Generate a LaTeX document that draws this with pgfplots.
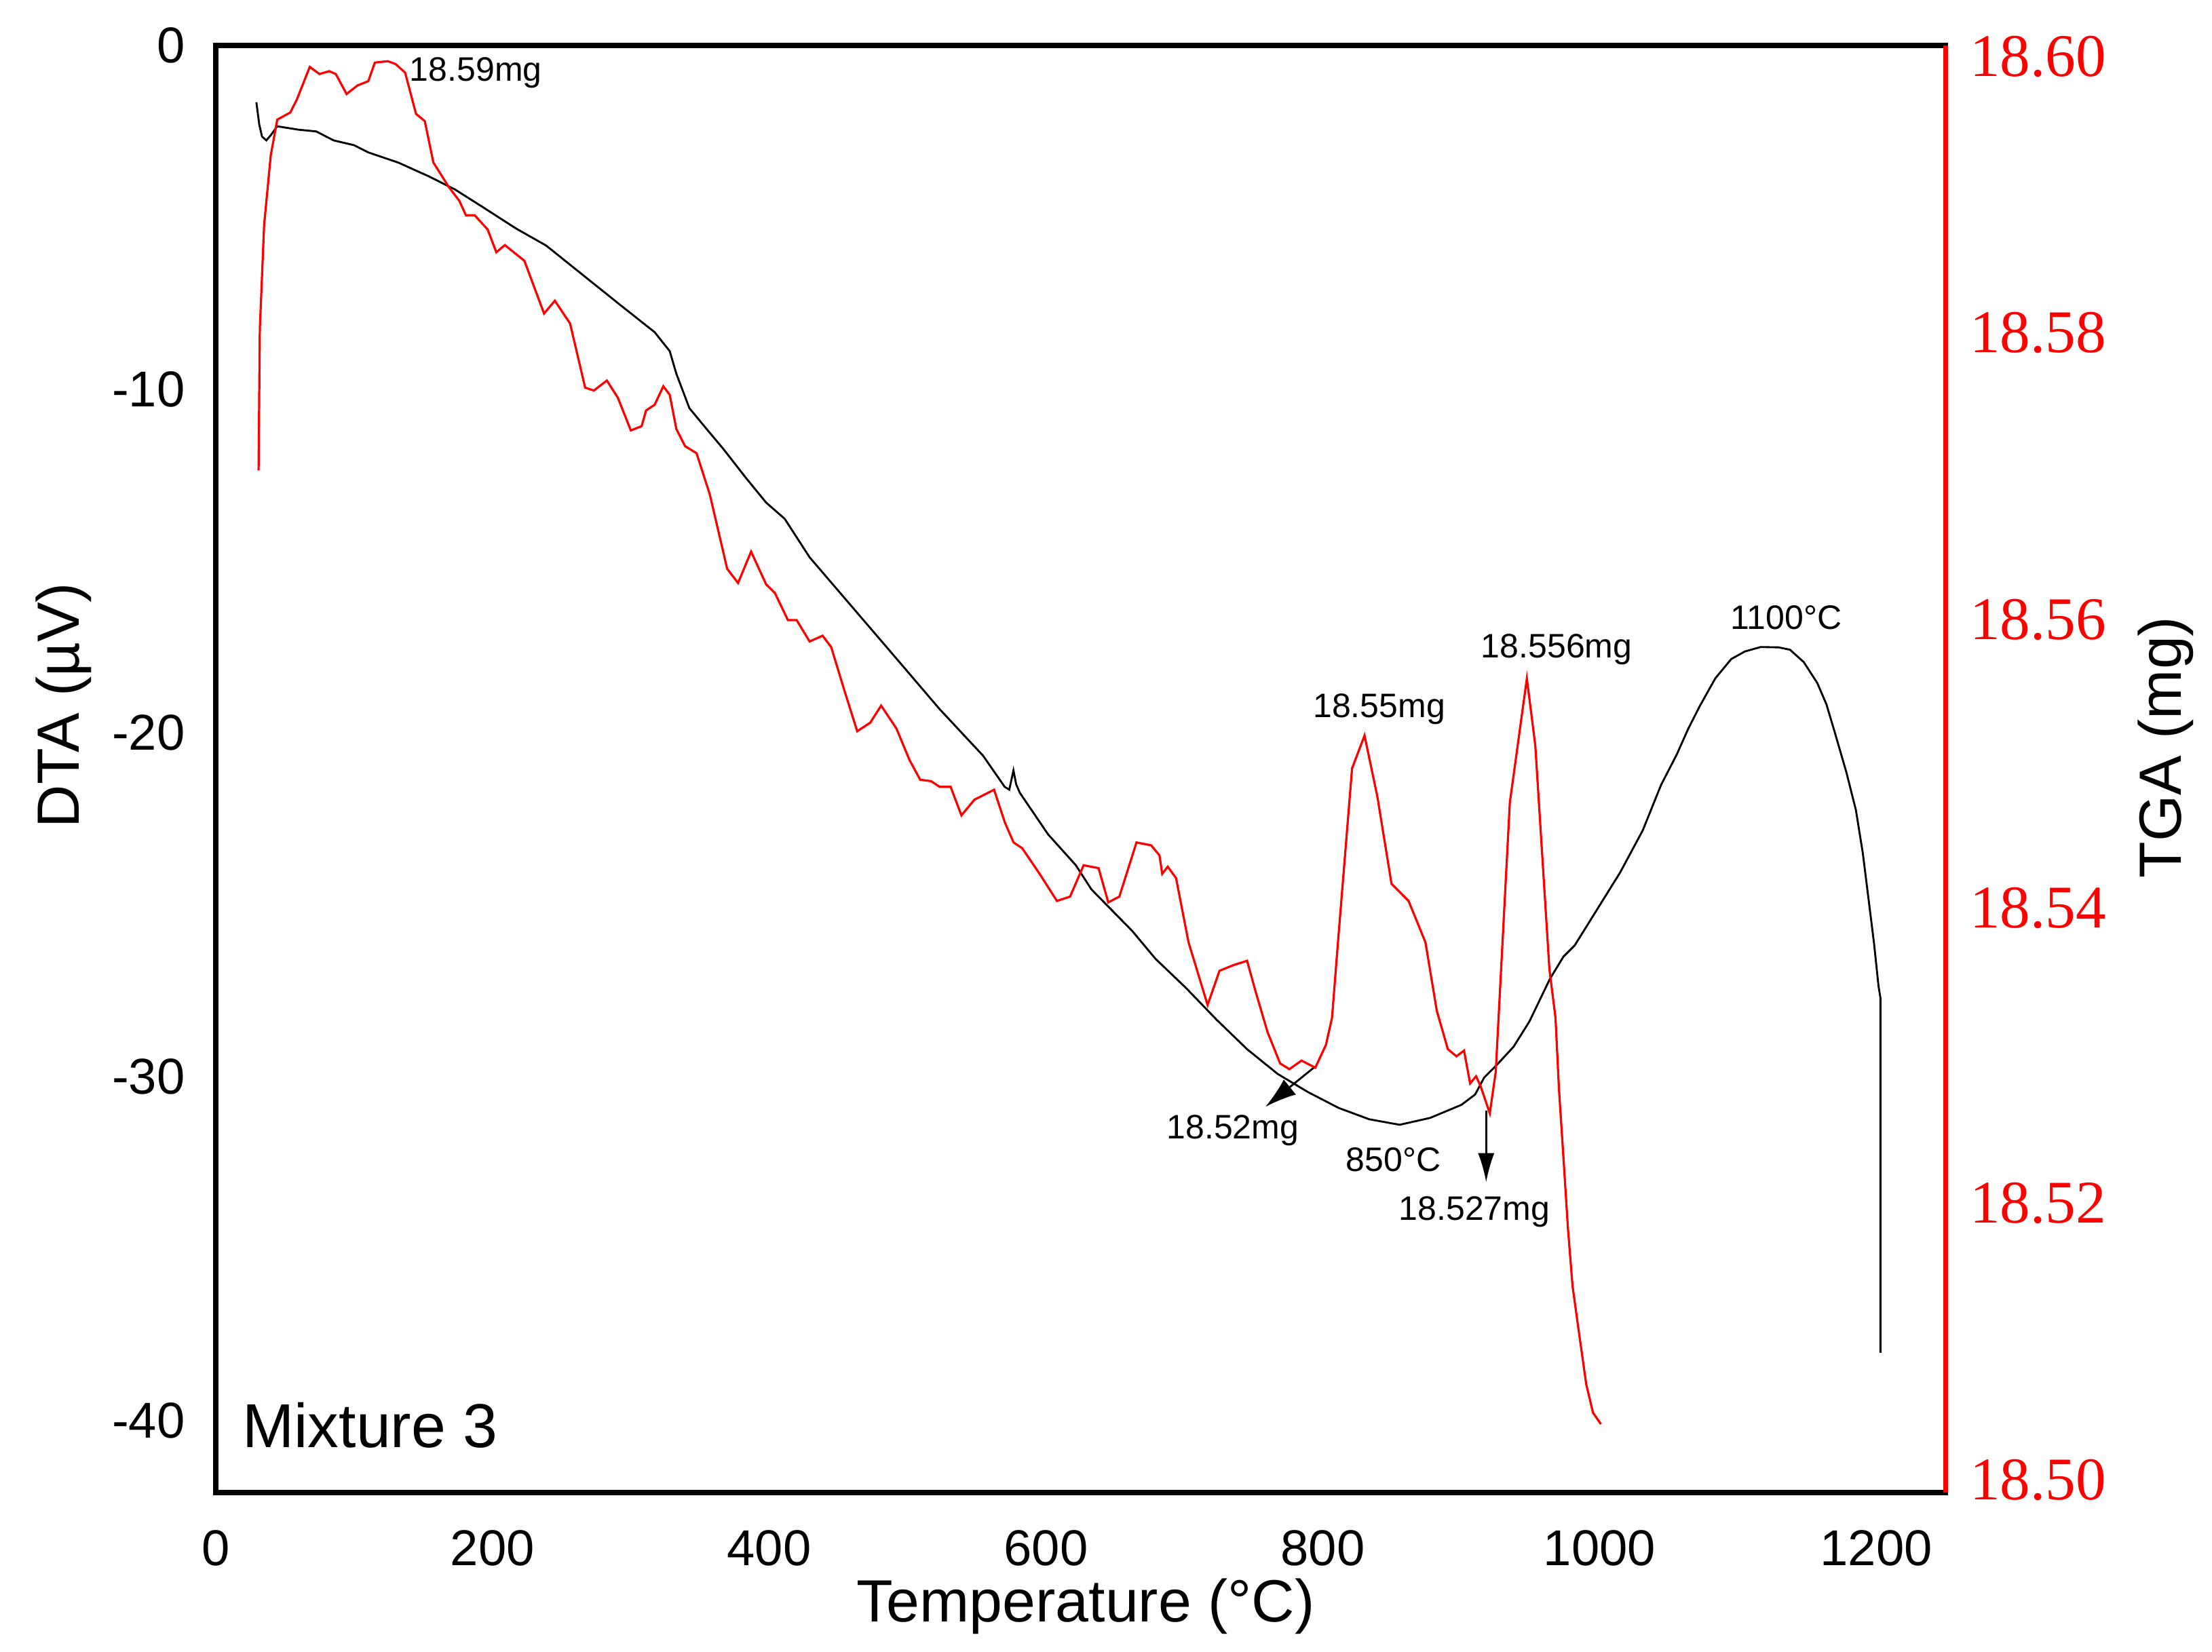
\documentclass[border=0pt]{standalone}
\usepackage{pgfplots}
\pgfplotsset{compat=1.18}
\usepackage{fontspec}
\setmainfont{Liberation Sans}
\newfontfamily\serifnum{Liberation Serif}
\usetikzlibrary{arrows.meta}

\pgfplotstableread{
x y
29.4 -1.65
31.5 -2.3
33.5 -2.65
36.6 -2.76
40 -2.6
44.5 -2.35
60 -2.45
72.7 -2.50
85.2 -2.76
100 -2.9
110.3 -3.11
132.2 -3.41
154.2 -3.81
173 -4.19
191.8 -4.67
216.9 -5.32
238.8 -5.82
267 -6.73
292.1 -7.54
317.2 -8.34
328.1 -8.89
332.9 -9.55
342.3 -10.55
354.8 -11.16
366.5 -11.72
383 -12.57
397.8 -13.30
411.2 -13.77
429.2 -14.89
460.5 -16.36
491.8 -17.83
523.2 -19.31
554.5 -20.66
570.2 -21.57
573.5 -21.65
576.5 -21.09
578.5 -21.5
581.1 -21.74
601.5 -22.95
621.6 -23.85
632.8 -24.55
662.3 -25.76
679.1 -26.57
701.2 -27.42
723.2 -28.34
745.3 -29.20
767.4 -29.92
789.4 -30.45
811.5 -30.91
833.6 -31.24
855.6 -31.40
877.6 -31.20
900.2 -30.82
910.1 -30.52
916.6 -30.03
924.8 -29.70
937.9 -29.13
949.4 -28.39
964.1 -27.16
973.9 -26.51
982.1 -26.18
998.5 -25.12
1014.9 -24.06
1031.3 -22.83
1044.4 -21.52
1055.9 -20.62
1064.1 -19.88
1072.3 -19.23
1083.7 -18.41
1095.2 -17.85
1105 -17.63
1116.5 -17.50
1129.5 -17.51
1137.7 -17.58
1147.6 -17.94
1157.4 -18.55
1164 -19.17
1170.5 -20.05
1178.7 -21.19
1185.3 -22.25
1190.2 -23.48
1194.3 -24.80
1198.4 -26.13
1201.6 -27.36
1203 -27.71
1203 -38.03
}\dtadata

\pgfplotstableread{
x y
31 18.5710
31.9 18.5809
35 18.5882
39.8 18.5931
44.5 18.5956
53.9 18.5961
58.6 18.5970
68 18.5993
75 18.5988
82.1 18.5990
86.8 18.5988
94.6 18.5974
102.5 18.5980
110.3 18.5983
115 18.5996
124.4 18.5997
130 18.5995
136.9 18.5989
144.8 18.5960
151.1 18.5955
157.3 18.5926
168.3 18.5909
176.1 18.5899
180.8 18.5889
187.1 18.5889
196.5 18.5879
202.8 18.5863
209 18.5868
223.1 18.5857
237.3 18.5820
245.1 18.5829
256.1 18.5813
267 18.5768
273.3 18.5766
282.7 18.5773
290.6 18.5761
300 18.5738
307.8 18.5741
311 18.5752
317.2 18.5756
323.5 18.5769
328.1 18.5763
332.9 18.5739
339.2 18.5727
347.5 18.5722
357.1 18.5693
369.6 18.5641
377.5 18.5631
386.9 18.5653
397.8 18.5630
404.1 18.5624
413.5 18.5605
419.8 18.5605
429.2 18.5590
438.6 18.5594
444.8 18.5586
454.2 18.5556
463.6 18.5527
473 18.5533
480.9 18.5545
491.9 18.5529
501.3 18.5507
509.1 18.5493
517 18.5492
523.2 18.5488
531.1 18.5488
538.9 18.5468
548.3 18.5479
562.5 18.5486
570.3 18.5463
576.6 18.5449
582.8 18.5445
595.4 18.5427
607.9 18.5408
617.4 18.5411
627.2 18.5433
638 18.5431
645 18.5407
653 18.5411
665.4 18.5449
676 18.5447
682 18.5440
684 18.5427
688 18.5432
694 18.5424
698.8 18.5400
703 18.5379
716.8 18.5335
725.4 18.5359
735.6 18.5363
745.3 18.5366
751.9 18.5343
760.1 18.5316
769.2 18.5294
775.9 18.5290
784.7 18.5296
794.6 18.5291
802.3 18.5307
806.7 18.5326
811 18.5379
821.2 18.5501
830.2 18.5524
839.5 18.5481
849.7 18.5420
862 18.5408
874.2 18.5379
882.4 18.5331
890.4 18.5304
896.6 18.5299
902.1 18.5303
906.5 18.5280
910.8 18.5285
914.1 18.5278
920.7 18.5259
925 18.5288
935.2 18.5477
947.5 18.5564
953.6 18.5517
963.8 18.5360
968.2 18.5326
970.7 18.5276
974 18.5227
977.2 18.5178
980.5 18.5138
984.6 18.5109
990.4 18.5069
995.3 18.5049
1001 18.5041
}\tgadata

\begin{document}
\begin{tikzpicture}
\begin{axis}[
  scale only axis, width=356.9pt, height=298.6pt,
  xmin=0, xmax=1250, ymin=-42.1, ymax=0,
  axis x line=box, axis y line=left,
  axis line style={black, line width=1.2pt, line cap=rect},
  x axis line style={-}, y axis line style={-},
  every outer x axis line/.append style={-},
  every outer y axis line/.append style={-},
  major tick length=0pt,
  xtick={0,200,400,600,800,1000,1200},
  xticklabels={0,200,400,600,800,1000,1200},
  ytick={-40,-30,-20,-10,0},
  yticklabels={-40,-30,-20,-10,0},
  tick label style={font=\fontsize{10.4}{12}\selectfont},
  xticklabel style={yshift=-4.3pt},
  yticklabel style={xshift=-2.8pt},
  clip=false,
]
\addplot[black, line width=0.4pt] table[x=x,y=y] {\dtadata};
\coordinate (sw) at (rel axis cs:0,0);
\coordinate (ne) at (rel axis cs:1,1);
\coordinate (xl) at (rel axis cs:0.503,0);
\coordinate (yl) at (rel axis cs:0,0.544);
\coordinate (y2l) at (rel axis cs:1,0.515);
\begin{scope}[font=\fontsize{7}{8}\selectfont]
\node at (axis cs:188,-0.8) {18.59mg};
\node at (axis cs:840.8,-19.30) {18.55mg};
\node at (axis cs:969,-17.58) {18.556mg};
\node at (axis cs:1135,-16.65) {1100°C};
\node at (axis cs:735,-31.57) {18.52mg};
\node at (axis cs:851,-32.42) {850°C};
\node at (axis cs:909.6,-33.94) {18.527mg};
\end{scope}
\draw[line width=0.4pt, -{Latex[length=6.5pt,width=4pt]}] (axis cs:793.8,-29.73) -- (axis cs:758.5,-30.88);
\draw[line width=0.4pt, -{Latex[length=6pt,width=3.4pt]}] (axis cs:918.1,-30.99) -- (axis cs:918.1,-33.07);
\node[anchor=west, inner sep=0pt, font=\fontsize{12.8}{14}\selectfont] at (axis cs:18.7,-40.14) {Mixture 3};
\end{axis}
\begin{axis}[
  scale only axis, width=356.9pt, height=298.6pt,
  xmin=0, xmax=1250, ymin=18.4993, ymax=18.6008,
  axis x line=none, axis y line=right,
  axis line style={red, line width=1pt},
  y axis line style={-},
  every outer y axis line/.append style={-},
  major tick length=0pt,
  ytick={18.5002,18.5196,18.5403,18.5605,18.58064,18.60},
  yticklabels={18.50,18.52,18.54,18.56,18.58,18.60},
  yticklabel style={font=\serifnum\fontsize{12.5}{14}\selectfont, text=red, xshift=1.5pt},
  clip=false,
]
\addplot[red, line width=0.45pt] table[x=x,y=y] {\tgadata};
\end{axis}
\node[font=\fontsize{12.3}{14}\selectfont] at ([yshift=-23.5pt]xl) {Temperature (°C)};
\node[font=\fontsize{12.3}{14}\selectfont, rotate=90] at ([xshift=-31.4pt]yl) {DTA (µV)};
\node[font=\fontsize{12.3}{14}\selectfont, rotate=90] at ([xshift=45.4pt]y2l) {TGA (mg)};
\pgfresetboundingbox
\path ([shift={(-44.5pt,-32.9pt)}]sw) rectangle ([shift={(55pt,9.4pt)}]ne);
\end{tikzpicture}
\end{document}
